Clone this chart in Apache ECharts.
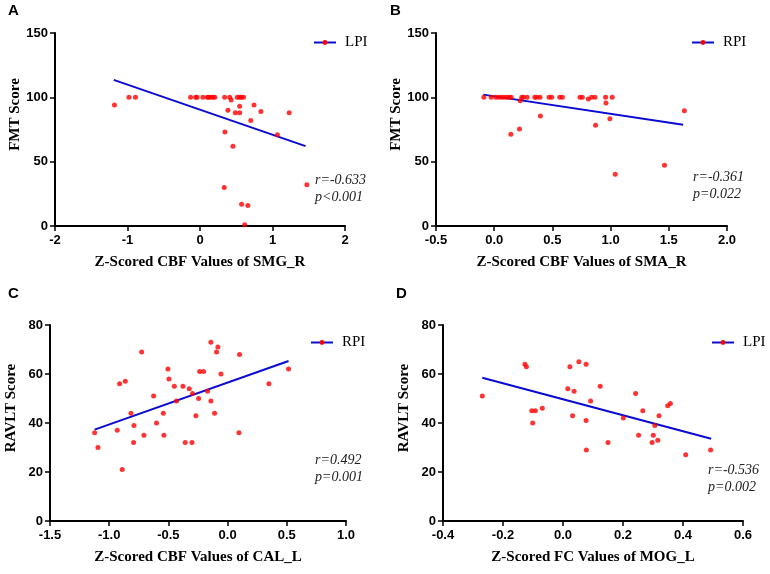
<!DOCTYPE html>
<html>
<head>
<meta charset="utf-8">
<script src="https://cdn.jsdelivr.net/npm/echarts@6/dist/echarts.min.js"></script>
<style>
  html, body { margin: 0; padding: 0; background: #fff; }
  #main { width: 770px; height: 574px; }
</style>
</head>
<body>
<div id="main"></div>
<script>
// panel A: Z-scored CBF of SMG_R vs FMT score
var pointsA = [
  [-1.18, 94], [-0.98, 100], [-0.89, 100], [-0.13, 100], [-0.06, 100], [-0.04, 100],
  [0.04, 100], [0.10, 100], [0.12, 100], [0.145, 100], [0.18, 100], [0.205, 100],
  [0.34, 100], [0.41, 100], [0.43, 98], [0.385, 90], [0.344, 73], [0.454, 62],
  [0.334, 30], [0.487, 88], [0.514, 100], [0.547, 100], [0.57, 100], [0.60, 100],
  [0.547, 93], [0.547, 88], [0.574, 17], [0.66, 16], [0.616, 1], [0.745, 94],
  [0.70, 82], [0.84, 89], [1.068, 71], [1.23, 88], [1.474, 32]
];
var fitA = [[-1.19, 113.6], [1.456, 62.1]];

// panel B: Z-scored CBF of SMA_R vs FMT score
var pointsB = [
  [-0.089, 100], [-0.026, 100], [0.014, 100], [0.037, 100], [0.06, 100], [0.083, 100],
  [0.106, 100], [0.129, 100], [0.146, 100], [0.143, 71.4], [0.223, 97.4], [0.217, 75.3],
  [0.237, 100], [0.251, 100], [0.283, 100], [0.349, 100], [0.366, 100], [0.394, 100],
  [0.397, 85.5], [0.471, 100], [0.494, 100], [0.563, 100], [0.586, 100], [0.737, 100],
  [0.757, 100], [0.809, 98.7], [0.837, 100], [0.866, 100], [0.871, 78.4], [0.957, 100],
  [0.96, 95.6], [0.994, 83.4], [1.014, 100], [1.04, 40.3], [1.463, 47.3], [1.634, 89.6]
];
var fitB = [[-0.094, 102.1], [1.623, 78.7]];

// panel C: Z-scored CBF of CAL_L vs RAVLT score
var pointsC = [
  [-1.123, 36], [-1.095, 30], [-0.932, 37], [-0.912, 56], [-0.89, 21], [-0.864, 57],
  [-0.816, 44], [-0.791, 39], [-0.794, 32], [-0.726, 69], [-0.707, 35], [-0.625, 51],
  [-0.60, 40], [-0.543, 44], [-0.538, 35], [-0.504, 62], [-0.495, 58], [-0.45, 55],
  [-0.431, 49], [-0.377, 55], [-0.358, 32], [-0.324, 54], [-0.301, 32], [-0.296, 52],
  [-0.268, 43], [-0.245, 50], [-0.236, 61], [-0.203, 61], [-0.169, 53], [-0.141, 73],
  [-0.141, 49], [-0.11, 44], [-0.093, 69], [-0.082, 71], [-0.056, 60], [0.096, 36],
  [0.101, 68], [0.349, 56], [0.515, 62]
];
var fitC = [[-1.123, 37.3], [0.515, 65.3]];

// panel D: Z-scored FC of MOG_L vs RAVLT score
var pointsD = [
  [-0.269, 51], [-0.127, 64], [-0.122, 63], [-0.104, 45], [-0.092, 45], [-0.101, 40],
  [-0.069, 46], [0.016, 54], [0.023, 63], [0.032, 43], [0.037, 53], [0.053, 65],
  [0.077, 64], [0.077, 41], [0.078, 29], [0.092, 49], [0.124, 55], [0.15, 32],
  [0.201, 42], [0.242, 52], [0.252, 35], [0.266, 45], [0.297, 32], [0.301, 35],
  [0.306, 39], [0.316, 33], [0.32, 43], [0.349, 47], [0.358, 48], [0.409, 27],
  [0.492, 29]
];
var fitD = [[-0.269, 58.5], [0.494, 33.6]];

var panelLetters = ['A', 'B', 'C', 'D'];
var legendNames = ['LPI', 'RPI', 'RPI', 'LPI'];
var xTitles = ['Z-Scored CBF Values of SMG_R', 'Z-Scored CBF Values of SMA_R',
               'Z-Scored CBF Values of CAL_L', 'Z-Scored FC Values of MOG_L'];
var yTitles = ['FMT Score', 'FMT Score', 'RAVLT Score', 'RAVLT Score'];
var xRanges = [[-2, 2, 1], [-0.5, 2.0, 0.5], [-1.5, 1.0, 0.5], [-0.4, 0.6, 0.2]];
var yRanges = [[0, 150, 50], [0, 150, 50], [0, 80, 20], [0, 80, 20]];
var statR = ['r=-0.633', 'r=-0.361', 'r=0.492', 'r=-0.536'];
var statP = ['p<0.001', 'p=0.022', 'p=0.001', 'p=0.002'];

var points = [pointsA, pointsB, pointsC, pointsD];
var fits = [fitA, fitB, fitC, fitD];

// layout of the four plot boxes (px)
var boxes = [
  { left: 55, top: 33, width: 290, height: 193 },
  { left: 436, top: 33, width: 291, height: 193 },
  { left: 50, top: 325, width: 296, height: 196 },
  { left: 443, top: 325, width: 300, height: 196 }
];
var legendPos = [[308, 30], [686, 30], [305, 330], [706, 330]];
var statPos = [[315, 172], [693, 169], [315, 452], [708, 462]];
var letterPos = [[8, 3], [390, 3], [8, 286], [396, 286]];

var black = '#000';
var grids = [], xAxes = [], yAxes = [], series = [], legends = [], graphics = [];

function decimals(step) {
  return step < 1 ? 1 : 0;
}

for (var i = 0; i < 4; i++) {
  grids.push(boxes[i]);
  var xd = decimals(xRanges[i][2]);
  xAxes.push({
    gridIndex: i, type: 'value',
    min: xRanges[i][0], max: xRanges[i][1], interval: xRanges[i][2],
    name: xTitles[i], nameLocation: 'middle', nameGap: 29,
    nameTextStyle: { fontFamily: 'Liberation Serif', fontWeight: 'bold', fontSize: 15, color: black },
    axisLine: { onZero: false, lineStyle: { color: black, width: 2 } },
    axisTick: { length: 5, lineStyle: { color: black, width: 1.5 } },
    axisLabel: {
      margin: 8, color: black, fontFamily: 'Liberation Sans', fontWeight: 'bold', fontSize: 13,
      formatter: (function (d) { return function (v) { return v.toFixed(d); }; })(xd)
    },
    splitLine: { show: false }
  });
  yAxes.push({
    gridIndex: i, type: 'value',
    min: yRanges[i][0], max: yRanges[i][1], interval: yRanges[i][2],
    name: yTitles[i], nameLocation: 'middle', nameGap: 31, nameRotate: 90,
    nameTextStyle: { fontFamily: 'Liberation Serif', fontWeight: 'bold', fontSize: 15, color: black,
                     padding: [0, 0, 0, 30] },
    axisLine: { onZero: false, lineStyle: { color: black, width: 2 } },
    axisTick: { length: 5, lineStyle: { color: black, width: 1.5 } },
    axisLabel: { margin: 7, color: black, fontFamily: 'Liberation Sans', fontWeight: 'bold', fontSize: 13 },
    splitLine: { show: false }
  });
  series.push({
    type: 'scatter', xAxisIndex: i, yAxisIndex: i,
    data: points[i], symbolSize: 5,
    itemStyle: { color: '#ff0000' }, z: 3
  });
  series.push({
    type: 'line', name: legendNames[i], xAxisIndex: i, yAxisIndex: i,
    data: fits[i], showSymbol: false, symbol: 'circle', symbolSize: 5,
    lineStyle: { color: '#0a0ad0', width: 2 },
    itemStyle: { color: '#ff0000' }, z: 2
  });
  legends.push({
    left: legendPos[i][0], top: legendPos[i][1],
    data: [legendNames[i]],
    itemWidth: 22, itemHeight: 6, itemGap: 0,
    textStyle: { fontFamily: 'Liberation Serif', fontSize: 15, color: black, padding: [0, 0, 0, 4] },
    selectedMode: false
  });
  graphics.push({
    type: 'text', left: letterPos[i][0], top: letterPos[i][1],
    style: { text: panelLetters[i], font: 'bold 15px "Liberation Sans"', fill: black }
  });
  graphics.push({
    type: 'text', left: statPos[i][0], top: statPos[i][1],
    style: { text: statR[i] + '\n' + statP[i], font: 'italic 14px "Liberation Serif"',
             fill: '#222', lineHeight: 17 }
  });
}

var chart = echarts.init(document.getElementById('main'), null, { renderer: 'canvas' });
chart.setOption({
  animation: false,
  backgroundColor: '#fff',
  grid: grids,
  xAxis: xAxes,
  yAxis: yAxes,
  legend: legends,
  series: series,
  graphic: graphics
});
</script>
</body>
</html>
